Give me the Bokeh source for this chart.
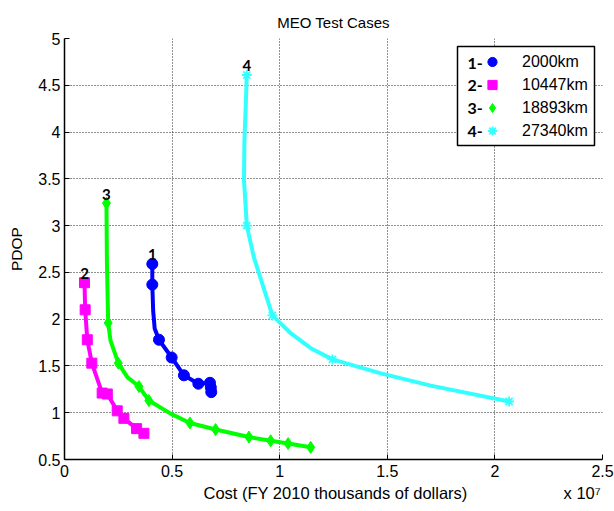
from bokeh.plotting import figure
from bokeh.models import (Range1d, FixedTicker, Legend, LegendItem, Label, BoxAnnotation)
from bokeh.core.properties import value
from bokeh.embed import file_html
from bokeh.resources import INLINE

# ---- data (cost in thousands of dollars, PDOP) ----
names = ["1-", "2-", "3-", "4-"]
altitudes = ["2000km", "10447km", "18893km", "27340km"]

# marked design points
cost_1 = [4.08e6, 4.08e6, 4.39e6, 4.98e6, 5.55e6, 6.22e6, 6.76e6, 6.80e6, 6.82e6]
pdop_1 = [2.59, 2.37, 1.78, 1.59, 1.40, 1.31, 1.32, 1.27, 1.22]

cost_2 = [0.93e6, 0.96e6, 1.06e6, 1.27e6, 1.75e6, 1.99e6, 2.45e6, 2.76e6, 3.35e6, 3.69e6]
pdop_2 = [2.39, 2.10, 1.78, 1.53, 1.21, 1.20, 1.02, 0.94, 0.83, 0.78]

cost_3 = [1.95e6, 2.03e6, 2.50e6, 3.46e6, 3.92e6, 5.83e6, 7.02e6, 8.57e6, 9.58e6, 10.39e6, 11.44e6]
pdop_3 = [3.24, 1.96, 1.53, 1.28, 1.13, 0.89, 0.82, 0.74, 0.70, 0.67, 0.63]

cost_4 = [8.47e6, 8.47e6, 9.66e6, 12.45e6, 20.66e6]
pdop_4 = [4.61, 3.00, 2.04, 1.57, 1.12]

# trade-off curves as traced in the picture
curve_cost_1 = [4.08e6, 4.08e6, 4.12e6, 4.19e6, 4.39e6, 4.98e6, 5.55e6, 6.22e6, 6.76e6, 6.82e6, 6.82e6]
curve_pdop_1 = [2.59, 2.37, 2.09, 1.90, 1.78, 1.59, 1.40, 1.31, 1.32, 1.27, 1.22]

curve_cost_2 = [0.93e6, 0.96e6, 1.06e6, 1.27e6, 1.75e6, 1.99e6, 2.45e6, 2.76e6, 3.35e6, 3.69e6]
curve_pdop_2 = [2.39, 2.10, 1.78, 1.53, 1.21, 1.20, 1.02, 0.94, 0.83, 0.78]

curve_cost_3 = [1.95e6, 1.97e6, 2.03e6, 2.14e6, 2.50e6, 2.92e6, 3.46e6, 3.92e6, 4.93e6,
                5.83e6, 7.02e6, 8.57e6, 9.58e6, 10.39e6, 11.44e6]
curve_pdop_3 = [3.24, 2.62, 1.96, 1.77, 1.53, 1.38, 1.28, 1.13, 0.99,
                0.89, 0.82, 0.74, 0.70, 0.67, 0.63]

curve_cost_4 = [8.47e6, 8.42e6, 8.36e6, 8.34e6, 8.42e6, 8.47e6, 8.80e6, 9.19e6, 9.66e6,
                10.51e6, 11.44e6, 12.45e6, 14.70e6, 17.02e6, 20.66e6]
curve_pdop_4 = [4.61, 4.27, 3.91, 3.48, 3.20, 3.00, 2.66, 2.38, 2.04,
                1.85, 1.69, 1.57, 1.42, 1.29, 1.12]

x_ticks = [0, 0.5e7, 1.0e7, 1.5e7, 2.0e7, 2.5e7]
x_tick_labels = ["0", "0.5", "1", "1.5", "2", "2.5"]
y_ticks = [0.5, 1, 1.5, 2, 2.5, 3, 3.5, 4, 4.5, 5]
y_tick_labels = ["0.5", "1", "1.5", "2", "2.5", "3", "3.5", "4", "4.5", "5"]

x_title = "Cost (FY 2010 thousands of dollars)"
x_multiplier = "x 10\u2077"
y_title = "PDOP"
chart_title = "MEO Test Cases"

colors = ["#0000FF", "#FF00FF", "#00FF00", "#33FFFF"]
markers = ["circle", "square", "diamond", "asterisk"]
marker_sizes = [11, 10, 12, 10]
marker_lw = [1, 1, 1, 1.8]

FONT = "Liberation Sans"
BOLD_FONT = "Lato"
NBSP = "\u00a0"

W, H = 614, 511
BL, BR, BT, BB = 64, 12, 38, 52
FW, FH = W - BL - BR, H - BT - BB

p = figure(width=W, height=H, output_backend="svg", toolbar_location=None,
           x_range=Range1d(0, 2.5e7), y_range=Range1d(0.5, 5),
           min_border_left=BL, min_border_right=BR, min_border_top=BT,
           min_border_bottom=BB, title=chart_title)
p.outline_line_color = None
p.background_fill_color = "white"
p.border_fill_color = "white"

p.title.align = "center"
p.title.text_font = FONT
p.title.text_font_style = "normal"
p.title.text_font_size = "15px"
p.title.text_color = "#000000"
p.title.standoff = 16

for ax in (p.xaxis[0], p.yaxis[0]):
    ax.axis_line_color = "black"
    ax.axis_line_width = 1.5
    ax.major_tick_in = 5
    ax.major_tick_out = 0
    ax.minor_tick_in = 0
    ax.minor_tick_out = 0
    ax.major_tick_line_color = "black"
    ax.major_label_text_font = FONT
    ax.major_label_text_font_size = "16px"
    ax.major_label_text_color = "black"
    ax.axis_label_text_font = FONT
    ax.axis_label_text_font_style = "normal"
    ax.axis_label_text_color = "black"

p.xaxis.axis_label_text_font_size = "16.5px"
p.yaxis.axis_label_text_font_size = "15.5px"
p.xaxis.ticker = FixedTicker(ticks=x_ticks)
p.yaxis.ticker = FixedTicker(ticks=y_ticks)
p.xaxis.major_label_overrides = {t: l for t, l in zip(x_ticks, x_tick_labels)}
p.yaxis.major_label_overrides = {t: l for t, l in zip(y_ticks, y_tick_labels)}
# multiplier placed at the right end of the x label line (padded with no-break spaces)
p.xaxis.axis_label = NBSP * 30 + x_title + NBSP * 21 + x_multiplier
p.yaxis.axis_label = y_title
p.xaxis.major_label_standoff = 5
p.yaxis.major_label_standoff = 4
p.xaxis.axis_label_standoff = 4
p.yaxis.axis_label_standoff = 10

p.xgrid.ticker = FixedTicker(ticks=x_ticks)
p.ygrid.ticker = FixedTicker(ticks=y_ticks)
for g in (p.xgrid[0], p.ygrid[0]):
    g.grid_line_color = "#222222"
    g.grid_line_dash = "1 2"
    g.grid_line_width = 1

series = [(cost_1, pdop_1), (cost_2, pdop_2), (cost_3, pdop_3), (cost_4, pdop_4)]
curves = [(curve_cost_1, curve_pdop_1), (curve_cost_2, curve_pdop_2),
          (curve_cost_3, curve_pdop_3), (curve_cost_4, curve_pdop_4)]
items = []
for i, (xs, ys) in enumerate(series):
    cx, cy = curves[i]
    p.line(cx, cy, line_color=colors[i], line_width=4, line_join="round", line_cap="round")
    r = p.scatter(xs, ys, marker=markers[i], size=marker_sizes[i],
                  fill_color=colors[i], line_color=colors[i], line_width=marker_lw[i])
    items.append(LegendItem(label=altitudes[i], renderers=[r]))
    p.text(x=[xs[0]], y=[ys[0]], text=[names[i][0]], text_align="center",
           text_baseline="alphabetic", y_offset=-9, text_font=value(BOLD_FONT),
           text_font_style="bold", text_font_size="15px", text_color="black")

# legend frame (frame-relative screen units, y measured from the frame bottom)
LEG_L, LEG_R, LEG_T, LEG_B = 393, FW - 8, FH - 8, FH - 107
p.add_layout(BoxAnnotation(left=LEG_L, right=LEG_R, top=LEG_T, bottom=LEG_B,
                           left_units="screen", right_units="screen",
                           top_units="screen", bottom_units="screen",
                           fill_color="white", fill_alpha=1.0,
                           line_color="black", line_width=1.5, line_alpha=1.0))

ROW0, PITCH = FH - 24.5, 22.8
for i, nm in enumerate(names):
    p.add_layout(Label(x=LEG_L + 10, y=ROW0 - i * PITCH, x_units="screen",
                       y_units="screen", text=nm, text_font=BOLD_FONT,
                       text_font_style="bold", text_font_size="16px",
                       text_baseline="middle", text_color="black"))

GLYPH_W = 56
legend = Legend(items=items, location=(LEG_L + 35 - GLYPH_W / 2, ROW0 + 11.4 - 4 * PITCH),
                margin=0, padding=0, spacing=0, glyph_width=GLYPH_W, glyph_height=23,
                label_height=23, label_standoff=2, border_line_color=None,
                background_fill_alpha=0.0, label_text_font=FONT,
                label_text_font_size="16px", label_text_color="black")
p.add_layout(legend)

open("out.html", "w").write(file_html(p, INLINE))
